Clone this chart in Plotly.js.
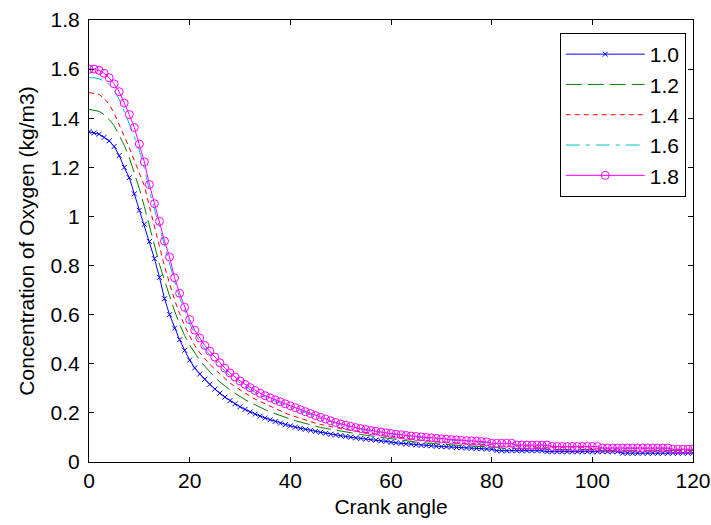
<!DOCTYPE html>
<html>
<head>
<meta charset="utf-8">
<script src="https://cdn.plot.ly/plotly-3.0.1.min.js"></script>
<style>html,body{margin:0;padding:0;background:#fff;}#chart{width:711px;height:525px;}</style>
</head>
<body>
<div id="chart"></div>
<script>
// Crank angle samples (degrees)
const crankAngle = Array.from({length: 121}, (_, i) => i);

const seriesNames = ["1.0", "1.2", "1.4", "1.6", "1.8"];

// Oxygen concentration (kg/m3), one value per degree 0..120
const o2_10 = [1.345,1.340,1.335,1.322,1.308,1.285,1.248,1.200,1.158,1.092,
1.025,0.968,0.898,0.828,0.752,0.665,0.600,0.545,0.498,0.455,
0.415,0.383,0.358,0.337,0.316,0.297,0.280,0.264,0.250,0.237,
0.225,0.214,0.204,0.195,0.187,0.179,0.172,0.165,0.158,0.152,
0.147,0.142,0.137,0.133,0.129,0.125,0.121,0.117,0.113,0.110,
0.107,0.104,0.101,0.098,0.096,0.093,0.091,0.089,0.086,0.084,
0.080,0.078,0.076,0.074,0.072,0.070,0.068,0.067,0.066,0.064,
0.063,0.062,0.061,0.059,0.058,0.057,0.056,0.055,0.054,0.053,
0.052,0.046,0.046,0.046,0.046,0.046,0.046,0.046,0.046,0.046,
0.046,0.042,0.042,0.042,0.042,0.042,0.042,0.042,0.042,0.042,
0.042,0.042,0.042,0.042,0.042,0.042,0.036,0.036,0.036,0.036,
0.036,0.036,0.036,0.036,0.036,0.036,0.036,0.036,0.036,0.036,0.036];

const o2_12 = [1.436,1.433,1.428,1.415,1.395,1.370,1.333,1.290,1.240,1.180,
1.113,1.040,0.960,0.875,0.805,0.740,0.675,0.615,0.562,0.515,
0.476,0.443,0.414,0.390,0.367,0.345,0.326,0.309,0.294,0.280,
0.266,0.254,0.243,0.232,0.222,0.213,0.204,0.196,0.189,0.182,
0.175,0.168,0.162,0.156,0.151,0.146,0.141,0.137,0.133,0.129,
0.125,0.122,0.118,0.115,0.112,0.109,0.106,0.103,0.100,0.097,
0.094,0.090,0.087,0.085,0.083,0.081,0.079,0.077,0.075,0.074,
0.072,0.071,0.070,0.068,0.067,0.066,0.065,0.064,0.063,0.062,
0.061,0.060,0.056,0.056,0.056,0.056,0.056,0.056,0.056,0.056,
0.056,0.051,0.051,0.051,0.051,0.051,0.051,0.051,0.051,0.051,
0.051,0.051,0.046,0.046,0.046,0.046,0.046,0.046,0.046,0.046,
0.046,0.046,0.046,0.046,0.046,0.046,0.046,0.046,0.046,0.046,0.046];

const o2_14 = [1.504,1.502,1.497,1.480,1.458,1.420,1.375,1.330,1.280,1.228,
1.180,1.125,1.040,0.955,0.877,0.797,0.728,0.660,0.605,0.555,
0.513,0.474,0.445,0.420,0.398,0.378,0.358,0.339,0.322,0.307,
0.293,0.280,0.268,0.256,0.246,0.236,0.226,0.216,0.207,0.199,
0.191,0.184,0.177,0.170,0.164,0.158,0.153,0.148,0.144,0.140,
0.136,0.132,0.129,0.125,0.122,0.119,0.116,0.113,0.110,0.107,
0.104,0.100,0.097,0.095,0.093,0.091,0.089,0.087,0.085,0.083,
0.082,0.080,0.079,0.077,0.076,0.075,0.074,0.073,0.072,0.071,
0.070,0.065,0.065,0.065,0.065,0.065,0.065,0.065,0.065,0.060,
0.060,0.060,0.060,0.060,0.060,0.060,0.060,0.060,0.060,0.060,
0.054,0.054,0.054,0.054,0.054,0.054,0.054,0.054,0.054,0.054,
0.054,0.054,0.054,0.049,0.049,0.049,0.049,0.049,0.049,0.049,0.049];

const o2_16 = [1.565,1.565,1.560,1.552,1.538,1.514,1.477,1.430,1.378,1.325,
1.270,1.195,1.105,1.030,0.955,0.880,0.815,0.735,0.670,0.615,
0.565,0.523,0.490,0.461,0.437,0.414,0.392,0.371,0.352,0.336,
0.321,0.307,0.295,0.283,0.273,0.264,0.255,0.247,0.239,0.231,
0.223,0.215,0.207,0.199,0.191,0.184,0.177,0.171,0.164,0.158,
0.152,0.147,0.142,0.137,0.133,0.129,0.125,0.122,0.119,0.116,
0.113,0.110,0.108,0.105,0.103,0.101,0.099,0.097,0.095,0.093,
0.092,0.090,0.089,0.087,0.086,0.085,0.083,0.082,0.081,0.080,
0.077,0.075,0.075,0.075,0.075,0.068,0.068,0.068,0.068,0.068,
0.068,0.068,0.062,0.062,0.062,0.062,0.062,0.062,0.062,0.062,
0.062,0.062,0.056,0.056,0.056,0.056,0.056,0.056,0.056,0.056,
0.056,0.056,0.056,0.056,0.056,0.056,0.051,0.051,0.051,0.051,0.051];

const o2_18 = [1.600,1.600,1.595,1.583,1.565,1.540,1.508,1.462,1.415,1.362,
1.295,1.222,1.130,1.052,0.980,0.900,0.835,0.750,0.687,0.630,
0.580,0.537,0.505,0.475,0.451,0.427,0.404,0.382,0.363,0.346,
0.330,0.316,0.303,0.291,0.280,0.270,0.261,0.253,0.245,0.237,
0.229,0.221,0.213,0.205,0.197,0.189,0.182,0.175,0.168,0.161,
0.155,0.150,0.145,0.140,0.136,0.132,0.128,0.125,0.122,0.119,
0.116,0.113,0.111,0.108,0.106,0.104,0.102,0.100,0.098,0.096,
0.094,0.093,0.091,0.090,0.088,0.087,0.086,0.085,0.083,0.082,
0.076,0.076,0.076,0.076,0.076,0.069,0.069,0.069,0.069,0.069,
0.069,0.069,0.063,0.063,0.063,0.063,0.063,0.063,0.063,0.063,
0.063,0.063,0.057,0.057,0.057,0.057,0.057,0.057,0.057,0.057,
0.057,0.057,0.057,0.057,0.057,0.057,0.052,0.052,0.052,0.052,0.052];

const xTicks = [0, 20, 40, 60, 80, 100, 120];
const yTicks = [0, 0.2, 0.4, 0.6, 0.8, 1, 1.2, 1.4, 1.6, 1.8];
const yTickText = ["0", "0.2", "0.4", "0.6", "0.8", "1", "1.2", "1.4", "1.6", "1.8"];

const FONT = "Liberation Sans, Arial, sans-serif";

const traces = [
  {x: crankAngle, y: o2_10, name: seriesNames[0], legendgroup: "a", mode: "lines+markers",
   line: {color: "#0000ff", width: 1},
   marker: {symbol: "x-thin", size: 5, line: {color: "#0000ff", width: 1}, color: "#0000ff"}},
  {x: crankAngle, y: o2_12, name: seriesNames[1], legendgroup: "b", mode: "lines",
   line: {color: "#008000", width: 1, dash: "16px,6px"}},
  {x: crankAngle, y: o2_14, name: seriesNames[2], legendgroup: "c", mode: "lines",
   line: {color: "#ff0000", width: 1, dash: "5px,4px"}},
  {x: crankAngle, y: o2_16, name: seriesNames[3], legendgroup: "d", mode: "lines",
   line: {color: "#00bfbf", width: 1, dash: "14px,6px,4px,6px"}},
  {x: crankAngle, y: o2_18, name: seriesNames[4], legendgroup: "e", mode: "lines+markers",
   line: {color: "#ff00ff", width: 1},
   marker: {symbol: "circle-open", size: 8, color: "#ff00ff", line: {color: "#ff00ff", width: 1}}}
];

const axisCommon = {
  showline: true, linecolor: "#000", linewidth: 1, mirror: "ticks",
  ticks: "inside", ticklen: 5, tickcolor: "#000", tickwidth: 1,
  showgrid: false, zeroline: false,
  tickfont: {family: FONT, size: 21, color: "#000"}
};

const layout = {
  width: 711, height: 525,
  margin: {l: 88.5, r: 18, t: 20, b: 63},
  paper_bgcolor: "#fff", plot_bgcolor: "#fff",
  font: {family: FONT, size: 21, color: "#000"},
  xaxis: Object.assign({}, axisCommon, {
    range: [0, 120], tickvals: xTicks, ticktext: xTicks.map(String),
    title: {text: "Crank angle", font: {family: FONT, size: 21, color: "#000"}, standoff: 8}
  }),
  yaxis: Object.assign({}, axisCommon, {
    range: [0, 1.8], tickvals: yTicks, ticktext: yTickText, ticklabelstandoff: 4,
    title: {text: "Concentration of Oxygen (kg/m3)", font: {family: FONT, size: 21, color: "#000"}, standoff: 10}
  }),
  showlegend: true,
  legend: {
    x: 0.988, xanchor: "right", y: 0.9706, yanchor: "top",
    bgcolor: "#fff", bordercolor: "#000", borderwidth: 1,
    font: {family: FONT, size: 21, color: "#000"},
    itemwidth: 79, tracegroupgap: 3, traceorder: "normal"
  }
};

Plotly.newPlot("chart", traces, layout, {staticPlot: true, displayModeBar: false});
</script>
</body>
</html>
